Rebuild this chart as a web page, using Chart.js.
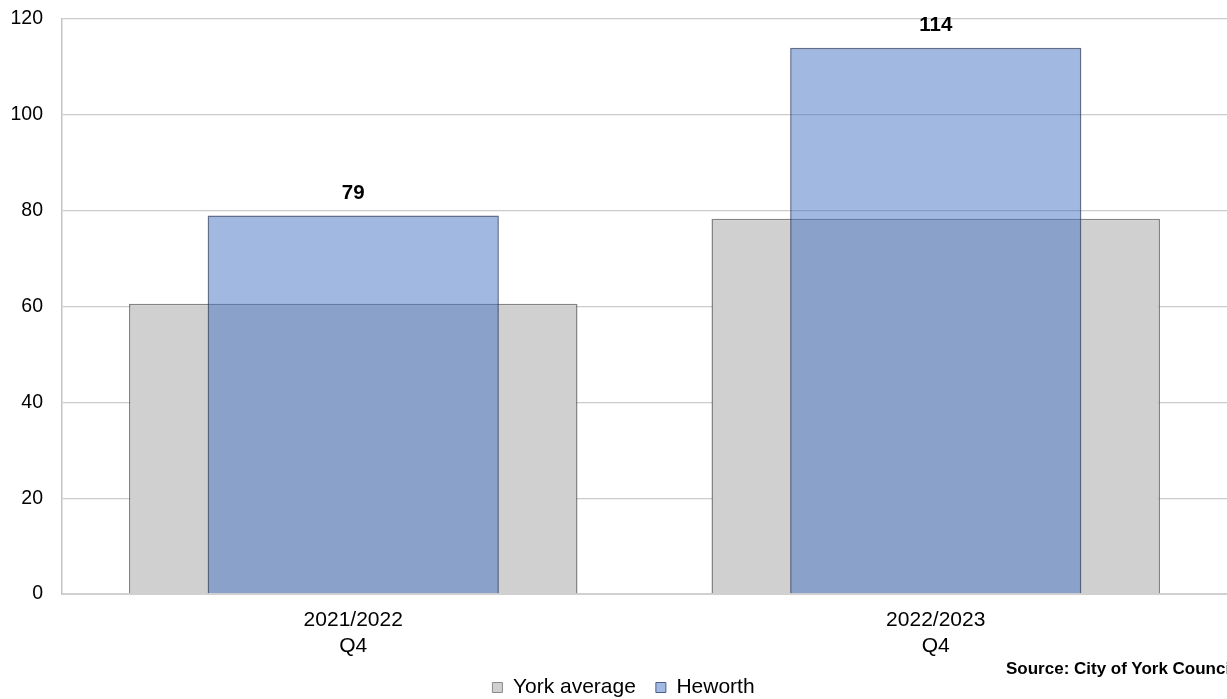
<!DOCTYPE html>
<html>
<head>
<meta charset="utf-8">
<script src="https://cdn.jsdelivr.net/npm/chart.js@4.4.1/dist/chart.umd.min.js"></script>
<style>
  html, body { margin: 0; padding: 0; background: #fff; overflow: hidden; }
  #wrap { position: relative; width: 1227px; height: 699px; overflow: hidden; }
  #source { position: absolute; left: 1006px; top: 659px; font: bold 17px "Liberation Sans", Arial, sans-serif; color: #000; white-space: nowrap; }
</style>
</head>
<body>
<div id="wrap">
  <canvas id="c" width="1227" height="699"></canvas>
  <div id="source">Source: City of York Council</div>
</div>
<script>
const categories = [["2021/2022", "Q4"], ["2022/2023", "Q4"]];
const seriesNames = ["York average", "Heworth"];
const yorkAverage = [60.6, 78.3];
const heworth = [79, 114];
const yTicks = [0, 20, 40, 60, 80, 100, 120];

const FONT = '"Liberation Sans", Arial, sans-serif';

const dataLabels = {
  id: 'dataLabels',
  afterDatasetsDraw(chart) {
    const ctx = chart.ctx;
    const idx = chart.data.datasets.findIndex(d => d.label === 'Heworth');
    const meta = chart.getDatasetMeta(idx);
    ctx.save();
    ctx.font = 'bold 20.5px ' + FONT;
    ctx.fillStyle = '#000';
    ctx.textAlign = 'center';
    ctx.textBaseline = 'middle';
    meta.data.forEach((bar, i) => {
      ctx.fillText(String(heworth[i]), bar.x, bar.y - 22);
    });
    ctx.restore();
  }
};

const legendShift = {
  id: 'legendShift',
  afterLayout(chart) {
    if (chart.legend) {
      chart.legend.left += 10;
      chart.legend.right += 10;
    }
  }
};

new Chart(document.getElementById('c'), {
  type: 'bar',
  data: {
    labels: categories,
    datasets: [
      {
        label: seriesNames[0],
        data: yorkAverage,
        backgroundColor: '#d0d0d0',
        borderColor: 'rgba(100,100,100,0.8)',
        borderWidth: 1.5,
        barPercentage: 0.77,
        categoryPercentage: 1,
        grouped: false,
        order: 2
      },
      {
        label: seriesNames[1],
        data: heworth,
        backgroundColor: 'rgba(68,114,196,0.5)',
        borderColor: 'rgba(45,62,98,0.75)',
        borderWidth: 1.5,
        barPercentage: 0.5,
        categoryPercentage: 1,
        grouped: false,
        order: 1
      }
    ]
  },
  options: {
    responsive: false,
    animation: false,
    devicePixelRatio: 1,
    layout: { padding: { top: 19, right: 0, left: 0, bottom: 0 } },
    plugins: {
      tooltip: { enabled: false },
      legend: {
        position: 'bottom',
        maxHeight: 42,
        labels: {
          font: { family: FONT, size: 21 },
          color: '#000',
          boxWidth: 10,
          boxHeight: 10,
          padding: 20,
          sort: (a, b) => a.datasetIndex - b.datasetIndex,
          generateLabels(chart) {
            return chart.data.datasets.map((d, i) => ({
              text: d.label,
              fillStyle: i === 0 ? '#d0d0d0' : '#a2b9e2',
              strokeStyle: i === 0 ? '#8a8a8a' : '#4a5f88',
              lineWidth: 1,
              datasetIndex: i,
              hidden: false
            }));
          }
        }
      }
    },
    scales: {
      x: {
        grid: { display: true, color: 'transparent', drawTicks: false },
        border: { display: true, color: '#d0d0d0', width: 2 },
        ticks: {
          font: { family: FONT, size: 21, lineHeight: 1.2 },
          color: '#000',
          padding: 14,
          maxRotation: 0
        },
        afterFit(scale) { scale.height = 63; }
      },
      y: {
        min: 0,
        max: 120,
        afterBuildTicks(scale) { scale.ticks = yTicks.map(v => ({ value: v })); },
        grid: { color: '#cbcbcb', lineWidth: 1.3, drawTicks: true, tickLength: 19, tickColor: 'rgba(0,0,0,0)' },
        border: { display: true, color: '#c4c4c4', width: 1.5 },
        ticks: {
          font: { family: FONT, size: 19.5 },
          color: '#000',
          padding: 0
        },
        afterFit(scale) { scale.width = 62; }
      }
    }
  },
  plugins: [dataLabels, legendShift]
});
</script>
</body>
</html>
